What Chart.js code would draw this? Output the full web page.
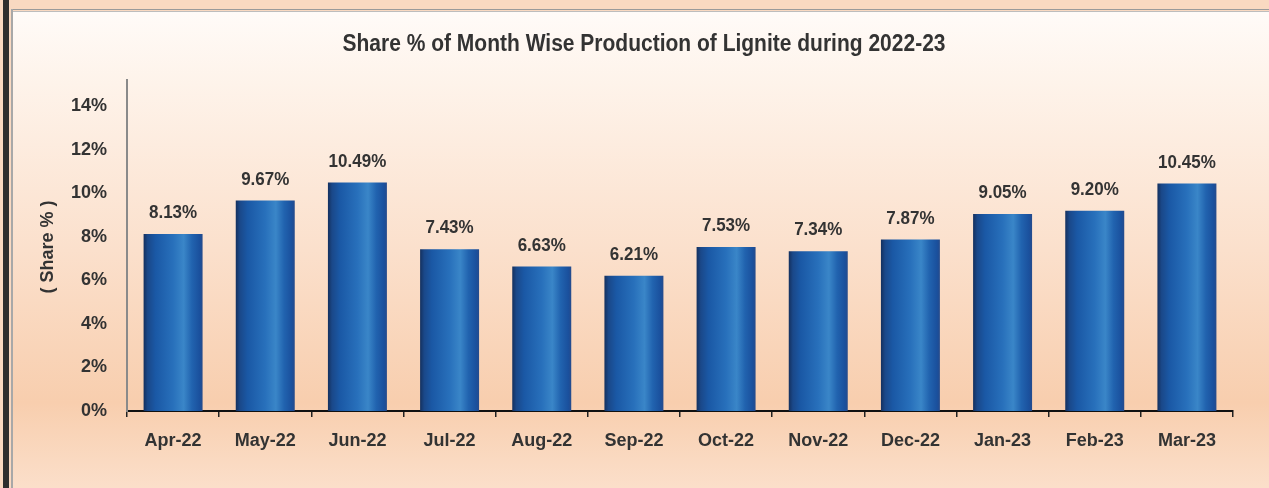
<!DOCTYPE html>
<html>
<head>
<meta charset="utf-8">
<script src="https://cdn.jsdelivr.net/npm/chart.js@4/dist/chart.umd.min.js"></script>
<style>
  html, body { margin: 0; padding: 0; background: #f9d9c1; }
  canvas { display: block; }
</style>
</head>
<body>
<canvas id="chart1" width="1269" height="488"></canvas>
<script>
const months = ['Apr-22', 'May-22', 'Jun-22', 'Jul-22', 'Aug-22', 'Sep-22', 'Oct-22', 'Nov-22', 'Dec-22', 'Jan-23', 'Feb-23', 'Mar-23']
const shares = [8.13, 9.67, 10.49, 7.43, 6.63, 6.21, 7.53, 7.34, 7.87, 9.05, 9.20, 10.45]
const shareLabels = ['8.13%', '9.67%', '10.49%', '7.43%', '6.63%', '6.21%', '7.53%', '7.34%', '7.87%', '9.05%', '9.20%', '10.45%']
const yTicks = [0, 2, 4, 6, 8, 10, 12, 14]

const chartTitle = 'Share % of Month Wise Production of Lignite during 2022-23'
const yTitle = '( Share % )'

const FONT = "'Liberation Sans', Arial, sans-serif"
const BAR_PCT = 0.64


// panel, borders and page frame
const backdrop = {
    id: 'backdrop',
    beforeDraw(chart) {
        const { ctx, width, height } = chart
        ctx.save()
        ctx.fillStyle = '#f9d9c1'
        ctx.fillRect(0, 0, width, height)

        const g = ctx.createLinearGradient(0, 12, 0, height)
        g.addColorStop(0, '#fffbf8')
        g.addColorStop(0.15, '#fef3ea')
        g.addColorStop(0.5, '#fbe0cc')
        g.addColorStop(0.82, '#f8ceae')
        g.addColorStop(1, '#fbdfca')
        ctx.fillStyle = g
        ctx.fillRect(12, 12, width - 12, height - 12)

        ctx.fillStyle = '#9a9a9a'
        ctx.fillRect(11, 9, width - 11, 1)
        ctx.fillStyle = '#bdbdbd'
        ctx.fillRect(11, 11, width - 11, 1)
        ctx.fillStyle = '#a8a8a8'
        ctx.fillRect(11, 9, 2, height)

        ctx.fillStyle = '#2e2e2e'
        ctx.fillRect(3, 0, 6, height)
        ctx.restore()
    }
}


// title, axis title and value labels (slightly stretched vertically like the original)
function tallText(ctx, text, x, y, size) {
    ctx.save()
    ctx.translate(x, y)
    ctx.scale(1, 1.12)
    ctx.font = 'bold ' + size + 'px ' + FONT
    ctx.fillText(text, 0, 0)
    ctx.restore()
}

const texts = {
    id: 'texts',
    afterDatasetsDraw(chart) {
        const { ctx } = chart
        const y = chart.scales.y
        const meta = chart.getDatasetMeta(0)

        ctx.save()
        ctx.fillStyle = '#333'
        ctx.textAlign = 'center'
        ctx.textBaseline = 'middle'

        tallText(ctx, chartTitle, 644, 45, 21)

        meta.data.forEach((bar, i) => {
            tallText(ctx, shareLabels[i], bar.x, y.getPixelForValue(shares[i]) - 21, 17)
        })

        ctx.translate(48, 247)
        ctx.rotate(-Math.PI / 2)
        ctx.font = 'bold 18px ' + FONT
        ctx.fillText(yTitle, 0, 0)
        ctx.restore()
    }
}


function barGradient(context) {
    const chart = context.chart
    const x = chart.scales.x
    if (!chart.chartArea || !x) return '#1f5aa6'
    const cx = x.getPixelForValue(context.dataIndex)
    const w = chart.chartArea.width / months.length * BAR_PCT
    const g = chart.ctx.createLinearGradient(cx - w / 2, 0, cx + w / 2, 0)
    g.addColorStop(0, '#14305e')
    g.addColorStop(0.07, '#1a4889')
    g.addColorStop(0.2, '#1a58a5')
    g.addColorStop(0.5, '#2870bb')
    g.addColorStop(0.68, '#3a86c8')
    g.addColorStop(0.82, '#2163af')
    g.addColorStop(0.95, '#1a509d')
    g.addColorStop(1, '#264b8b')
    return g
}


const data = {
    labels: months,
    datasets: [{
        data: shares,
        backgroundColor: barGradient,
        borderWidth: 0,
        categoryPercentage: 1,
        barPercentage: BAR_PCT
    }]
}

const options = {
    responsive: false,
    animation: false,
    events: [],
    layout: {
        padding: { top: 80, right: 36, left: 0, bottom: 0 }
    },
    plugins: {
        legend: { display: false },
        tooltip: { enabled: false }
    },
    scales: {
        x: {
            grid: {
                display: true,
                drawOnChartArea: false,
                drawTicks: true,
                tickLength: 6,
                color: '#222',
                lineWidth: 1.5
            },
            border: { display: true, color: '#111', width: 2 },
            ticks: {
                color: '#333',
                padding: 13,
                font: { family: FONT, size: 18, weight: 'bold' }
            },
            afterFit(scale) { scale.height = 77 }
        },
        y: {
            min: 0,
            max: 15.2,
            grid: { display: false, drawTicks: false },
            border: { display: true, color: '#8a8a8a', width: 2 },
            ticks: {
                stepSize: 2,
                padding: 20,
                color: '#333',
                font: { family: FONT, size: 18, weight: 'bold' },
                callback: v => v + '%'
            },
            afterBuildTicks(scale) {
                scale.ticks = yTicks.map(v => ({ value: v }))
            },
            afterFit(scale) { scale.width = 127 }
        }
    }
}

Chart.defaults.font.family = FONT

new Chart('chart1', { type: 'bar', data, options, plugins: [backdrop, texts] })
</script>
</body>
</html>
